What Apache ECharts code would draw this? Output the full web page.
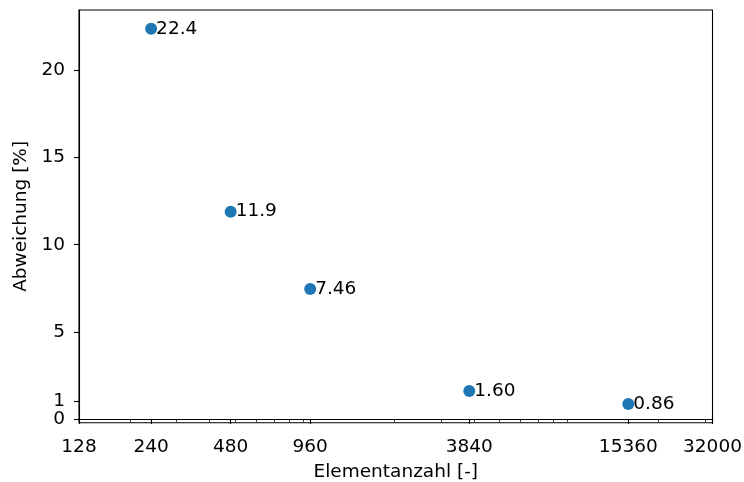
<!DOCTYPE html>
<html>
<head>
<meta charset="utf-8">
<script src="https://cdn.jsdelivr.net/npm/echarts@6/dist/echarts.min.js"></script>
<style>html,body{margin:0;padding:0;background:#fff;}#c{width:744px;height:482px;}</style>
</head>
<body>
<div id="c"></div>
<script>
const elements = [240, 480, 960, 3840, 15360];
const deviation = [22.4, 11.9, 7.46, 1.60, 0.86];
const pointLabels = ['22.4', '11.9', '7.46', '1.60', '0.86'];
const xTicks = [128, 240, 480, 960, 3840, 15360, 32000];
const xMinorTicks = [200, 300, 400, 500, 600, 700, 800, 900, 2000, 3000, 4000, 5000, 6000, 7000, 8000, 9000, 20000, 30000];
const yTicks = [0, 1, 5, 10, 15, 20];

const FONT = 'DejaVu Sans';
const FS = 18.5;
const Y_MIN = -0.217, Y_MAX = 23.477;
const chart = echarts.init(document.getElementById('c'), null, {renderer: 'canvas'});
const axisCommonLine = {show: true, lineStyle: {color: '#000', width: 1.1}};
// split the y ticks over two overlaid axes so that the close "0" and "1" labels are both drawn
const yTicksA = yTicks.filter((v, i) => i % 2 === 0);
const yTicksB = yTicks.filter((v, i) => i % 2 === 1);
function yAxisDef(ticks, withName) {
  return {
    type: 'value', min: Y_MIN, max: Y_MAX, position: 'left',
    name: withName ? 'Abweichung [%]' : '', nameLocation: 'middle', nameGap: 42,
    nameTextStyle: {fontFamily: FONT, fontSize: FS, color: '#000'},
    axisLine: withName ? axisCommonLine : {show: false},
    axisTick: {show: true, length: 5, lineStyle: {color: '#000', width: 1.1}, customValues: ticks},
    axisLabel: {fontFamily: FONT, fontSize: FS, lineHeight: 15, color: '#000', margin: 14, hideOverlap: false, customValues: ticks},
    splitLine: {show: false}
  };
}
chart.setOption({
  animation: false,
  backgroundColor: '#fff',
  grid: {left: 79, top: 10, right: 31.5, bottom: 59.3, show: true, borderColor: '#000', borderWidth: 1.1, containLabel: false, outerBoundsMode: 'none'},
  xAxis: [{
    type: 'log', logBase: 10, min: 128, max: 32000,
    name: 'Elementanzahl [-]', nameLocation: 'middle', nameGap: 40,
    nameTextStyle: {fontFamily: FONT, fontSize: FS, color: '#000'},
    axisLine: axisCommonLine,
    axisTick: {show: true, inside: false, length: 5, lineStyle: {color: '#000', width: 1.1}, customValues: xTicks},
    axisLabel: {show: true, fontFamily: FONT, fontSize: FS, color: '#000', margin: 15, hideOverlap: false, customValues: xTicks, formatter: v => String(Math.round(v))},
    splitLine: {show: false}, minorTick: {show: false}
  }, {
    type: 'log', logBase: 10, min: 128, max: 32000, position: 'bottom',
    axisLine: {show: false},
    axisTick: {show: true, length: 3, lineStyle: {color: '#000', width: 0.8}, customValues: xMinorTicks},
    axisLabel: {show: false, customValues: xMinorTicks},
    splitLine: {show: false}
  }],
  yAxis: [yAxisDef(yTicksA, true), yAxisDef(yTicksB, false)],
  series: [{
    type: 'scatter',
    xAxisIndex: 0,
    yAxisIndex: 0,
    symbolSize: 12,
    itemStyle: {color: '#1f77b4', opacity: 1},
    data: elements.map((x, i) => [x, deviation[i]]),
    label: {
      show: true, position: 'right', distance: -1,
      fontFamily: FONT, fontSize: FS, color: '#000',
      formatter: p => pointLabels[p.dataIndex]
    }
  }]
});
</script>
</body>
</html>
